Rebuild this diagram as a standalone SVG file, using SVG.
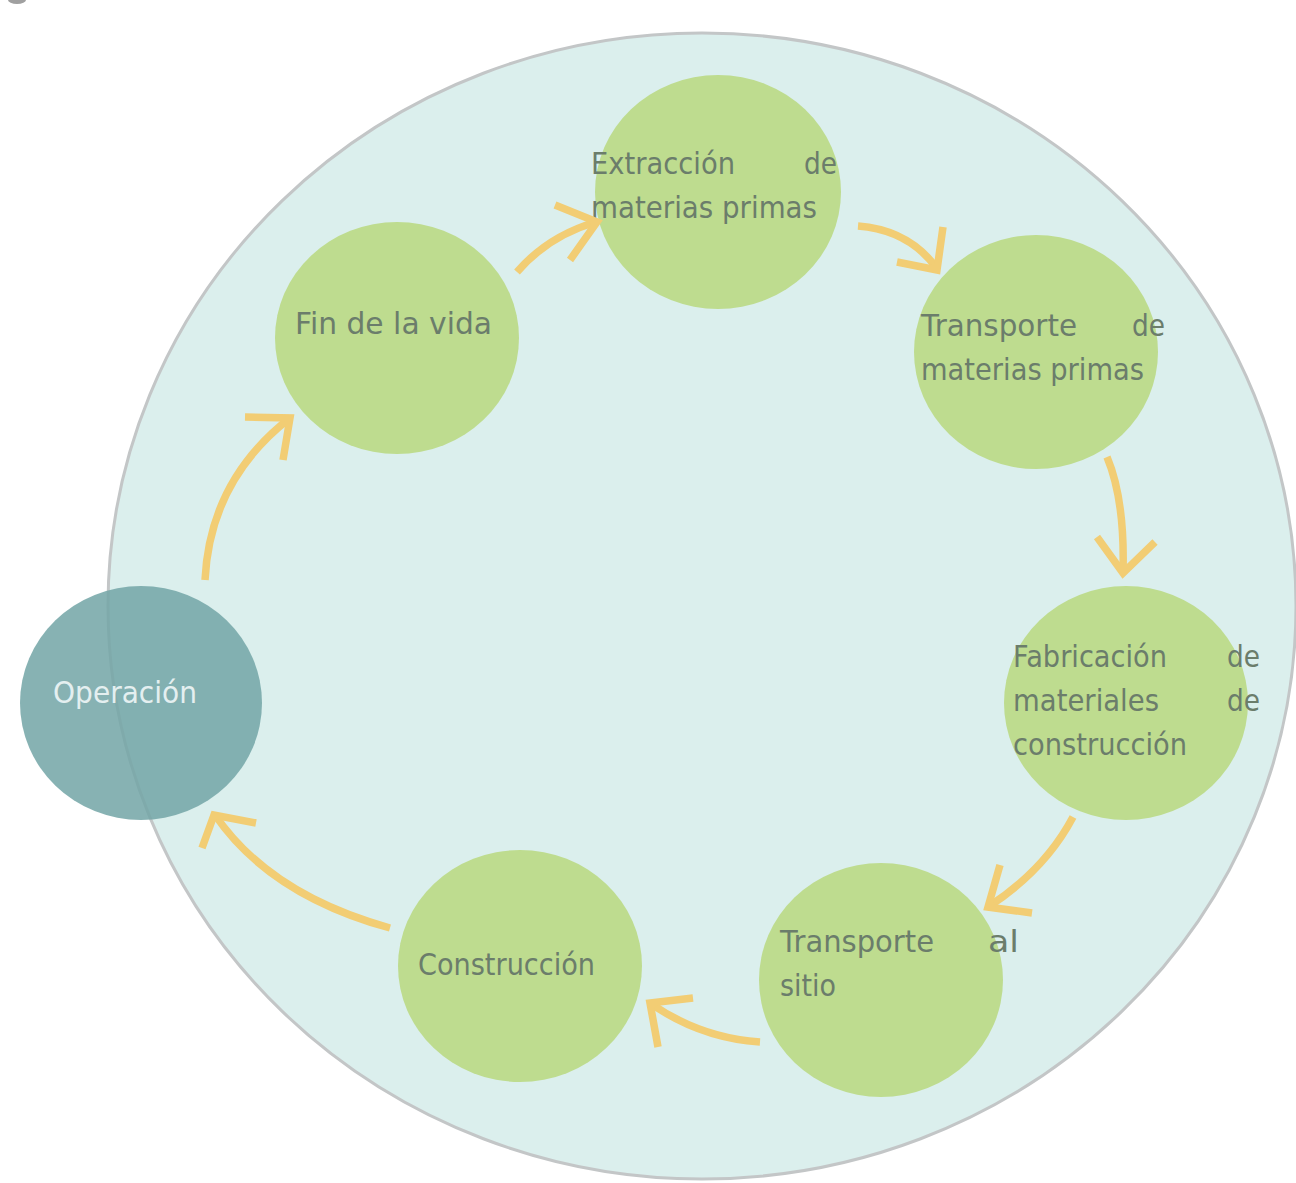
<svg xmlns="http://www.w3.org/2000/svg" width="1296" height="1183" viewBox="0 0 1296 1183">
<style>
.stage{fill:#bedc8f;}
.lbl{font-family:"DejaVu Sans",sans-serif;font-size:31px;fill:#6b7d6b;}
.lblw{font-family:"DejaVu Sans",sans-serif;font-size:31px;fill:#e4eff0;}
.end{text-anchor:end;}
.arr{fill:none;stroke:#f2cd74;stroke-width:7.5;stroke-linecap:butt;stroke-linejoin:miter;}
</style>
<rect width="1296" height="1183" fill="#ffffff"/>
<ellipse cx="17" cy="0" rx="9" ry="4" fill="#a0a0a0"/>
<g id="ciclo">
<ellipse cx="702" cy="606" rx="594" ry="573" fill="#dbefed" stroke="#c3c6c7" stroke-width="3"/>
</g>
<g id="node-extraccion">
<ellipse class="stage" cx="718" cy="192" rx="123" ry="117"/>
<text class="lbl" x="591" y="174" textLength="144" lengthAdjust="spacingAndGlyphs">Extracción</text>
<text class="lbl end" x="837" y="174" textLength="33" lengthAdjust="spacingAndGlyphs">de</text>
<text class="lbl" x="591" y="218" textLength="226" lengthAdjust="spacingAndGlyphs">materias primas</text>
</g>
<g id="node-transporte-mp">
<ellipse class="stage" cx="1036" cy="352" rx="122" ry="117"/>
<text class="lbl" x="921" y="336" textLength="156" lengthAdjust="spacingAndGlyphs">Transporte</text>
<text class="lbl end" x="1165" y="336" textLength="33" lengthAdjust="spacingAndGlyphs">de</text>
<text class="lbl" x="921" y="380" textLength="223" lengthAdjust="spacingAndGlyphs">materias primas</text>
</g>
<g id="node-fabricacion">
<ellipse class="stage" cx="1126" cy="703" rx="122" ry="117"/>
<text class="lbl" x="1013" y="667" textLength="154" lengthAdjust="spacingAndGlyphs">Fabricación</text>
<text class="lbl end" x="1260" y="667" textLength="33" lengthAdjust="spacingAndGlyphs">de</text>
<text class="lbl" x="1013" y="711" textLength="146" lengthAdjust="spacingAndGlyphs">materiales</text>
<text class="lbl end" x="1260" y="711" textLength="33" lengthAdjust="spacingAndGlyphs">de</text>
<text class="lbl" x="1013" y="755" textLength="174" lengthAdjust="spacingAndGlyphs">construcción</text>
</g>
<g id="node-transporte-sitio">
<ellipse class="stage" cx="881" cy="980" rx="122" ry="117"/>
<text class="lbl" x="780" y="952" textLength="154" lengthAdjust="spacingAndGlyphs">Transporte</text>
<text class="lbl" x="988" y="952" textLength="31" lengthAdjust="spacingAndGlyphs">al</text>
<text class="lbl" x="780" y="996" textLength="56" lengthAdjust="spacingAndGlyphs">sitio</text>
</g>
<g id="node-construccion">
<ellipse class="stage" cx="520" cy="966" rx="122" ry="116"/>
<text class="lbl" x="418" y="975" textLength="177" lengthAdjust="spacingAndGlyphs">Construcción</text>
</g>
<g id="node-fin">
<ellipse class="stage" cx="397" cy="338" rx="122" ry="116"/>
<text class="lbl" x="295" y="334" textLength="197" lengthAdjust="spacingAndGlyphs">Fin de la vida</text>
</g>
<g id="node-operacion">
<ellipse cx="141" cy="703" rx="121" ry="117" fill="#73a5a6" fill-opacity="0.86"/>
<text class="lblw" x="53" y="703" textLength="144" lengthAdjust="spacingAndGlyphs">Operación</text>
</g>
<g id="connectors">
<path class="arr" d="M517,272 Q548,236 596,222"/>
<polyline class="arr" points="555,205 597,222 570,260"/>
<path class="arr" d="M858,226 Q910,230 938,270"/>
<polyline class="arr" points="943,227 937,270 897,262"/>
<path class="arr" d="M1107,457 Q1125,500 1123,572"/>
<polyline class="arr" points="1097,537 1123,573 1155,542"/>
<path class="arr" d="M1073,817 Q1045,870 988,907"/>
<polyline class="arr" points="1000,865 988,907 1032,913"/>
<path class="arr" d="M760,1042 Q700,1038 650,1003"/>
<polyline class="arr" points="693,998 650,1003 658,1047"/>
<path class="arr" d="M390,928 Q270,895 215,815"/>
<polyline class="arr" points="256,823 214,815 202,848"/>
<path class="arr" d="M205,580 Q210,480 290,418"/>
<polyline class="arr" points="245,417 290,418 283,460"/>
</g>
</svg>
